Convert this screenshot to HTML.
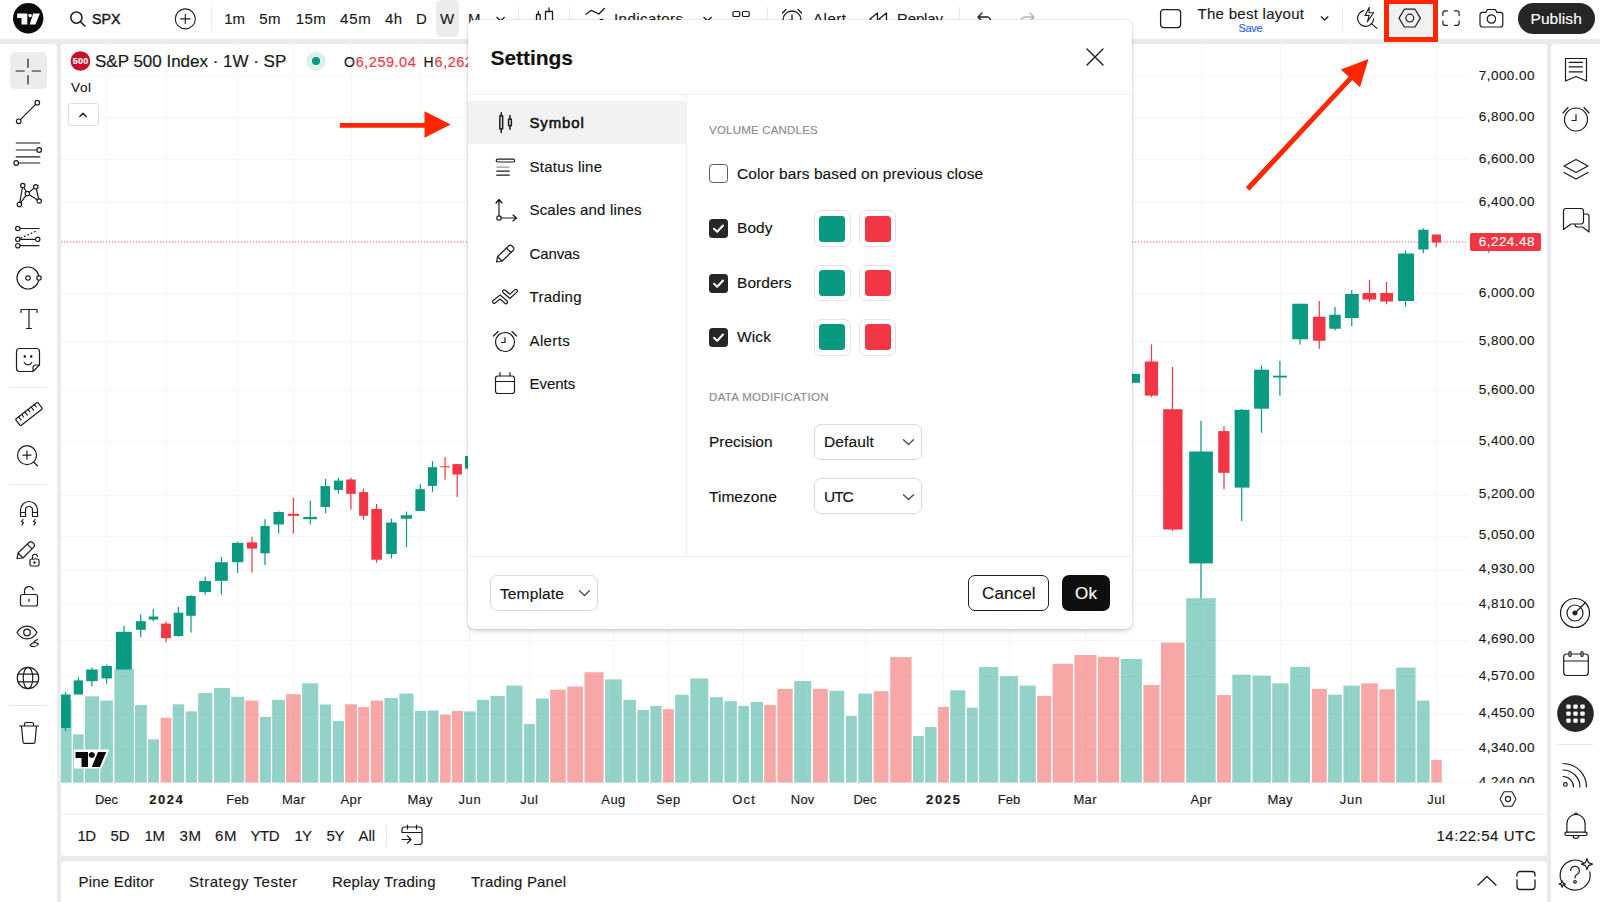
<!DOCTYPE html>
<html lang="en"><head><meta charset="utf-8"><title>Chart settings</title>
<style>
*{box-sizing:border-box;margin:0;padding:0}
html,body{width:1600px;height:902px;overflow:hidden}
body{position:relative;background:#ebebeb;font-family:"Liberation Sans",sans-serif;color:#131313}
.t{position:absolute;white-space:nowrap;line-height:20px;height:20px;-webkit-text-stroke:0.15px currentColor}
.p{position:absolute;background:#fff}
.a{position:absolute}
svg{position:absolute;overflow:visible}
.ic{fill:none;stroke:#1c1c1c;stroke-width:1.25;stroke-linecap:round;stroke-linejoin:round}
.sep{position:absolute;background:#e8e8e8}

</style></head>
<body>
<div class="p" style="left:0;top:0;width:1600px;height:39px"></div>
<svg style="left:13px;top:3px" width="31" height="31" viewBox="0 0 31 31"><circle cx="15.2" cy="15.2" r="15.2" fill="#0a0a0a"/><path d="M4.15 10.5H14.3V21.6H8.5V15H4.15z M20.1 10.5h6.8L22.4 21.6h-5.65z" fill="#fff"/><circle cx="17.1" cy="12.4" r="1.75" fill="#fff"/></svg>
<svg style="left:69px;top:10px" width="18" height="18" viewBox="0 0 18 18"><circle cx="7.4" cy="7.6" r="5.6" class="ic" style="stroke-width:1.5"/><path d="M11.6 11.9L15.8 16" class="ic" style="stroke-width:1.5"/></svg>
<span class="t" style="left:92.00px;top:8.60px;font-size:14.2px;color:#1a1a1a;letter-spacing:0.042px;-webkit-text-stroke:0.45px #1a1a1a;">SPX</span><svg style="left:174px;top:8px" width="22" height="22" viewBox="0 0 22 22"><circle cx="11.3" cy="10.9" r="10" class="ic" style="stroke-width:1.1"/><path d="M11.3 6.2v9.4M6.6 10.9H16" class="ic" style="stroke-width:1.1"/></svg>
<div class="sep" style="left:211px;top:7px;width:1px;height:23px"></div>
<div class="a" style="left:435.5px;top:0;width:23px;height:36.5px;background:#ececec;border-radius:5px"></div>
<span class="t" style="left:224.25px;top:9.20px;font-size:15px;color:#1a1a1a;letter-spacing:-0.088px;">1m</span><span class="t" style="left:259.25px;top:9.20px;font-size:15px;color:#1a1a1a;letter-spacing:0.412px;">5m</span><span class="t" style="left:295.75px;top:9.20px;font-size:15px;color:#1a1a1a;letter-spacing:0.410px;">15m</span><span class="t" style="left:340.00px;top:9.20px;font-size:15px;color:#1a1a1a;letter-spacing:0.785px;">45m</span><span class="t" style="left:385.00px;top:9.20px;font-size:15px;color:#1a1a1a;letter-spacing:0.315px;">4h</span><span class="t" style="left:416.00px;top:9.20px;font-size:15px;color:#1a1a1a;">D</span><span class="t" style="left:440.00px;top:9.20px;font-size:15px;color:#1a1a1a;">W</span><span class="t" style="left:468.00px;top:9.20px;font-size:15px;color:#1a1a1a;">M</span><svg style="left:494.5px;top:14.800px" width="12" height="8" viewBox="0 0 12 8"><path d="M1.800 2.300l3.800 3.500 3.800-3.500" class="ic"/></svg>
<div class="sep" style="left:518px;top:7px;width:1px;height:23px"></div>
<svg style="left:535px;top:6px" width="22" height="26" viewBox="0 0 22 26"><path d="M1.5 8.5h3.6v9h-3.6zM3.3 5.5v3M3.3 17.5v3M10.5 5.5h7v13h-7zM14 2v3.5M14 18.5v4" class="ic" style="stroke-width:1.3"/></svg>
<div class="sep" style="left:569px;top:7px;width:1px;height:23px"></div>
<svg style="left:585px;top:6px" width="24" height="22" viewBox="0 0 24 22"><path d="M1 8.200L6.300 4.300L13.800 8L19.400 2.500" class="ic" style="stroke-width:1.300"/><path d="M14.500 16c0-3.500 4-3.500 4 0v3" class="ic" style="stroke-width:1.300"/></svg>
<span class="t" style="left:614.00px;top:9.20px;font-size:15px;color:#1a1a1a;letter-spacing:0.441px;">Indicators</span><svg style="left:701.500px;top:14.800px" width="12" height="8" viewBox="0 0 12 8"><path d="M1.800 2.300l3.800 3.500 3.800-3.500" class="ic"/></svg>
<svg style="left:731px;top:10px" width="20" height="20" viewBox="0 0 20 20"><rect x="1.900" y="1.500" width="6.800" height="5" rx="1.300" class="ic" style="stroke-width:1.200"/><rect x="11.400" y="1.500" width="6.800" height="5" rx="1.300" class="ic" style="stroke-width:1.200"/><rect x="1.900" y="10.500" width="6.800" height="5" rx="1.300" class="ic" style="stroke-width:1.200"/><rect x="11.400" y="10.500" width="6.800" height="5" rx="1.300" class="ic" style="stroke-width:1.200"/></svg>
<div class="sep" style="left:767px;top:7px;width:1px;height:23px"></div>
<svg style="left:780px;top:7px" width="24" height="24" viewBox="0 0 24 24"><circle cx="12" cy="13" r="9" class="ic" style="stroke-width:1.3"/><path d="M12 8v5.5h-3.5M2.5 6L6 2.5M21.5 6L18 2.5" class="ic" style="stroke-width:1.3"/></svg>
<span class="t" style="left:813.00px;top:9.20px;font-size:15px;color:#1a1a1a;letter-spacing:0.539px;">Alert</span><svg style="left:868px;top:11px" width="22" height="16" viewBox="0 0 22 16"><path d="M9.5 2L2 8l7.5 6zM18.5 2L11 8l7.5 6z" class="ic" style="stroke-width:1.3"/></svg>
<span class="t" style="left:897.00px;top:9.20px;font-size:15px;color:#1a1a1a;letter-spacing:-0.139px;">Replay</span><div class="sep" style="left:959px;top:7px;width:1px;height:23px"></div>
<svg style="left:976px;top:11px" width="20" height="16" viewBox="0 0 20 16"><path d="M6 2L2 6l4 4M2 6h10a5 5 0 0 1 0 9" class="ic" style="stroke-width:1.3"/></svg>
<svg style="left:1016px;top:11px" width="20" height="16" viewBox="0 0 20 16"><path d="M14 2l4 4-4 4M18 6H8a5 5 0 0 0 0 9" class="ic" style="stroke:#b5b5b5;stroke-width:1.3"/></svg>
<svg style="left:1159px;top:8px" width="24" height="22" viewBox="0 0 24 22"><rect x="1.6" y="1.6" width="20" height="18" rx="3" class="ic" style="stroke-width:1.3"/></svg>
<span class="t" style="left:1197.50px;top:3.80px;font-size:15px;color:#1a1a1a;letter-spacing:0.281px;">The best layout</span><span class="t" style="left:1238.50px;top:17.60px;font-size:11px;color:#2962ff;letter-spacing:-0.358px;">Save</span><svg style="left:1319px;top:15px" width="12" height="8" viewBox="0 0 12 8"><path d="M2.300 1.800l3.300 3.200 3.300-3.200" class="ic"/></svg>
<div class="sep" style="left:1342px;top:7px;width:1px;height:23px"></div>
<svg style="left:1356px;top:6px" width="24" height="24" viewBox="0 0 24 24"><path d="M7.5 4.6A8 8 0 1 0 17.6 13" class="ic" style="stroke-width:1.2"/><path d="M15.2 17.4l5.6 5" class="ic" style="stroke-width:1.2"/><path d="M13.3 1.2L9 9.4h4.2l-1.8 6.4 6.2-9H13z" class="ic" style="stroke-width:1.1;fill:#fff"/></svg>
<div class="a" style="left:1383.75px;top:-1px;width:53.75px;height:43px;background:#f1f1f1;border:5px solid #ff2600"></div>
<svg style="left:1397px;top:7.300px" width="26" height="22" viewBox="0 0 26 22"><path d="M7.400 2.200h10.600l5.400 8.900-5.400 8.900H7.400L2 11.100z" class="ic" style="stroke-width:1.2"/><circle cx="12.8" cy="11.1" r="3.9" class="ic" style="stroke-width:1.2"/></svg>
<svg style="left:1441.900px;top:9.900px" width="18" height="17.100" viewBox="0 0 20 19"><path d="M1 6V3.2A2.2 2.2 0 0 1 3.200 1H6M14 1h2.800A2.200 2.200 0 0 1 19 3.200V6M19 12v2.800A2.200 2.200 0 0 1 16.800 17H14M6 17H3.200A2.200 2.200 0 0 1 1 14.800V12" class="ic" style="stroke-width:1.3"/></svg>
<svg style="left:1479px;top:8px" width="25" height="20" viewBox="0 0 25 20"><path d="M3.500 4.300H7l1.400-2.800h8l1.400 2.800h3.500a2.500 2.500 0 0 1 2.500 2.500v9.700a2.500 2.500 0 0 1-2.500 2.500H3.500A2.500 2.500 0 0 1 1 16.500V6.800a2.500 2.500 0 0 1 2.500-2.500z" class="ic" style="stroke-width:1.2"/><circle cx="12.4" cy="11" r="4.200" class="ic" style="stroke-width:1.2"/></svg>
<div class="a" style="left:1517.5px;top:3px;width:77px;height:30.5px;border-radius:16px;background:#262626"></div>
<span class="t" style="left:1530.50px;top:8.80px;font-size:15.5px;color:#fff;letter-spacing:0.069px;">Publish</span><div class="p" style="left:0;top:44px;width:56.6px;height:858px;border-top-right-radius:4px"></div>
<div class="a" style="left:10px;top:52.3px;width:36.6px;height:36.6px;background:#ececec;border-radius:5px"></div>
<svg style="left:12.3px;top:54.6px" width="32" height="32" viewBox="-16.0 -16.0 32 32"><g class="ic" style="stroke-width:1.2"><path d="M0 -12v8.300M0 4.500v8.300M-11.800 0h8M4.200 0h8.300"/></g></svg>
<svg style="left:12.2px;top:96.2px" width="32" height="32" viewBox="-16.0 -16.0 32 32"><g class="ic" style="stroke-width:1.2"><circle cx="9.3" cy="-9.300" r="2.300"/><circle cx="-9.300" cy="9.300" r="2.300"/><path d="M-7.600 7.600L7.600 -7.600"/></g></svg>
<svg style="left:12.4px;top:136.7px" width="32" height="32" viewBox="-16.0 -16.0 32 32"><g class="ic" style="stroke-width:1.2"><path d="M-11.800 -10h23.600M-11.800 -3h20.700M-11.800 3.900h23.600M-9.500 10h21.300"/><circle cx="11.200" cy="-3" r="2.300" fill="#fff"/><circle cx="-11.800" cy="10" r="2.300" fill="#fff"/></g></svg>
<svg style="left:12.5px;top:179.0px" width="32" height="32" viewBox="-16.0 -16.0 32 32"><g class="ic" style="stroke-width:1.2"><path d="M-6.200 -9.500L-9.600 9.400L-1.700 -1.400L6.800 -8.200L10.200 6L-1.700 -1.400L-6.200 -9.500"/><circle cx="-6.200" cy="-9.500" r="2.200" fill="#fff"/><circle cx="6.800" cy="-8.200" r="2.200" fill="#fff"/><circle cx="-1.700" cy="-1.400" r="2.200" fill="#fff"/><circle cx="10.200" cy="6" r="2.200" fill="#fff"/><circle cx="-9.600" cy="9.400" r="2.200" fill="#fff"/></g></svg>
<svg style="left:12.0px;top:220.5px" width="32" height="32" viewBox="-16.0 -16.0 32 32"><g class="ic" style="stroke-width:1.2"><path d="M-8 -8.500h19M-8 8.700h19M-8 2.300h16"/><path d="M-7 1l16.500 -7.500" stroke-dasharray="0.900 2.800"/><circle cx="-10.200" cy="-8.500" r="2.200" fill="#fff"/><circle cx="-10.200" cy="2.300" r="2.200" fill="#fff"/><circle cx="9.700" cy="2.300" r="2.200" fill="#fff"/><circle cx="-10.200" cy="8.700" r="2.200" fill="#fff"/></g></svg>
<svg style="left:12.2px;top:261.6px" width="32" height="32" viewBox="-16.0 -16.0 32 32"><g class="ic" style="stroke-width:1.2"><circle cx="0" cy="0" r="11"/><circle cx="0" cy="0" r="2.200"/><circle cx="11" cy="0" r="2.200" fill="#fff"/></g></svg>
<svg style="left:12.5px;top:303.0px" width="32" height="32" viewBox="-16.0 -16.0 32 32"><g class="ic" style="stroke-width:1.2"><path d="M-8 -6.500v-3h16v3M0 -9.500v19M-2.500 9.500h5"/></g></svg>
<svg style="left:12.2px;top:343.6px" width="32" height="32" viewBox="-16.0 -16.0 32 32"><g class="ic" style="stroke-width:1.2"><path d="M-8.500 -11.500h17a3 3 0 0 1 3 3v13.500l-6.500 6.500h-13.500a3 3 0 0 1 -3 -3v-17a3 3 0 0 1 3 -3zM11.500 5h-4a2.500 2.500 0 0 0 -2.500 2.500v4"/><path d="M-3.800 2.500a4.300 4.300 0 0 0 7.600 0"/><circle cx="-3.200" cy="-3.500" r="0.700" fill="#1c1c1c"/><circle cx="3.200" cy="-3.500" r="0.700" fill="#1c1c1c"/></g></svg>
<div class="sep" style="left:9px;top:387px;width:38px;height:1px"></div>
<svg style="left:12.5px;top:398.0px" width="32" height="32" viewBox="-16.0 -16.0 32 32"><g class="ic" style="stroke-width:1.2"><g transform="rotate(-38)"><rect x="-14" y="-4.200" width="28" height="8.400" rx="1"/><path d="M-10 -4.200v4M-6 -4.200v3M-2 -4.200v4M2 -4.200v3M6 -4.200v4M10 -4.200v3"/></g></g></svg>
<svg style="left:11.0px;top:440.0px" width="32" height="32" viewBox="-16.0 -16.0 32 32"><g class="ic" style="stroke-width:1.2"><circle cx="0" cy="-0.800" r="9.500"/><path d="M0 -4.800v8M-4 -0.800h8M6.700 6.200L10.500 9.800"/></g></svg>
<div class="sep" style="left:9px;top:484px;width:38px;height:1px"></div>
<svg style="left:12.5px;top:497.0px" width="32" height="32" viewBox="-16.0 -16.0 32 32"><g class="ic" style="stroke-width:1.2"><path d="M-8.500 3.500v-6.500a8.500 8.500 0 0 1 17 0v6.500h-5v-6.500a3.500 3.500 0 0 0 -7 0v6.500zM-8.500 -0.500h5M3.500 -0.500h5"/><path d="M-6 6.500l-1.500 2 2 1-1.500 2.500M6 6.500l-1.500 2 2 1-1.500 2.500"/></g></svg>
<svg style="left:11.5px;top:538.5px" width="32" height="32" viewBox="-16.0 -16.0 32 32"><g class="ic" style="stroke-width:1.2"><path d="M-11 3.500l1 -5.500 11 -10.500a2.500 2.500 0 0 1 3.500 0l1.200 1.200a2.500 2.500 0 0 1 0 3.500l-10.700 10.800zM-10 -2l4.500 4.500M-0.700 -10.800l4.700 4.700"/><rect x="2" y="4" width="9" height="7" rx="1.500" fill="#fff"/><path d="M4.500 4v-2a2.500 2.500 0 0 1 5 -0.500"/><circle cx="6.500" cy="7.500" r="0.600" fill="#1c1c1c"/></g></svg>
<svg style="left:12.5px;top:580.0px" width="32" height="32" viewBox="-16.0 -16.0 32 32"><g class="ic" style="stroke-width:1.2"><rect x="-8.500" y="-1.500" width="17" height="11.500" rx="2"/><path d="M-4.500 -1.500v-3.500a4.500 4.500 0 0 1 8.800 -1.300M0 3v2.500"/></g></svg>
<svg style="left:11.0px;top:617.0px" width="32" height="32" viewBox="-16.0 -16.0 32 32"><g class="ic" style="stroke-width:1.2"><path d="M-10 -0.500c5 -8.500 15 -8.500 20 0c-5 8.500 -15 8.500 -20 0z"/><circle cx="0" cy="-0.500" r="3.300"/><path d="M3 12.500c2 -3.500 6.500 -3.500 8.500 -1.500c-2 2.500 -5.500 3.500 -8.500 1.500zM7 8.500l3.500 -2"/></g></svg>
<svg style="left:12.0px;top:662.0px" width="32" height="32" viewBox="-16.0 -16.0 32 32"><g class="ic" style="stroke-width:1.2"><circle cx="0" cy="0" r="10.700"/><ellipse cx="0" cy="0" rx="4.800" ry="10.700"/><path d="M-10 -3.800h20M-10 3.800h20"/></g></svg>
<div class="sep" style="left:9px;top:705px;width:38px;height:1px"></div>
<svg style="left:12.5px;top:717.0px" width="32" height="32" viewBox="-16.0 -16.0 32 32"><g class="ic" style="stroke-width:1.2"><path d="M-9.500 -7h19M-7.500 -7l1.500 16a1.500 1.500 0 0 0 1.500 1.400h9a1.500 1.500 0 0 0 1.500 -1.400l1.500 -16M-4.500 -7v-2a1.500 1.500 0 0 1 1.500 -1.500h6a1.500 1.500 0 0 1 1.500 1.500v2"/></g></svg>
<div class="p" style="left:61px;top:44px;width:1485.7px;height:812.2px;border-radius:4px"></div>
<svg style="left:0;top:0" width="1600" height="902" viewBox="0 0 1600 902"><defs><clipPath id="cp"><rect x="61" y="44" width="1407" height="739"/></clipPath></defs><g stroke="#f6f6f6" stroke-width="1" shape-rendering="crispEdges"><path d="M61 76H1468"/><path d="M61 117H1468"/><path d="M61 159H1468"/><path d="M61 202.5H1468"/><path d="M61 246.5H1468"/><path d="M61 293.5H1468"/><path d="M61 341H1468"/><path d="M61 390.5H1468"/><path d="M61 441H1468"/><path d="M61 495H1468"/><path d="M61 536H1468"/><path d="M61 570H1468"/><path d="M61 604.5H1468"/><path d="M61 640.5H1468"/><path d="M61 676H1468"/><path d="M61 714H1468"/><path d="M61 749H1468"/><path d="M61 782.5H1468"/><path d="M106.5 44V783"/><path d="M166 44V783"/><path d="M237.5 44V783"/><path d="M293.5 44V783"/><path d="M351 44V783"/><path d="M420 44V783"/><path d="M469.6 44V783"/><path d="M529 44V783"/><path d="M613.3 44V783"/><path d="M668.2 44V783"/><path d="M743.5 44V783"/><path d="M802.6 44V783"/><path d="M865 44V783"/><path d="M943 44V783"/><path d="M1009 44V783"/><path d="M1085 44V783"/><path d="M1201 44V783"/><path d="M1280 44V783"/><path d="M1351 44V783"/><path d="M1436 44V783"/></g><path d="M61 242H1467" stroke="#f23645" stroke-width="1.2" stroke-dasharray="1.1 1.9" opacity="0.85"/><g clip-path="url(#cp)"><rect x="64.90" y="692.00" width="1.2" height="39.00" fill="#0a9981"/><rect x="61.10" y="694.50" width="9.50" height="33.50" fill="#0a9981"/><rect x="77.80" y="677.30" width="1.2" height="17.20" fill="#0a9981"/><rect x="73.70" y="680.40" width="9.30" height="14.10" fill="#0a9981"/><rect x="91.30" y="667.50" width="1.2" height="18.80" fill="#0a9981"/><rect x="86.20" y="669.50" width="11.50" height="11.70" fill="#0a9981"/><rect x="106.00" y="664.60" width="1.2" height="19.10" fill="#0a9981"/><rect x="101.50" y="666.00" width="10.40" height="12.40" fill="#0a9981"/><rect x="123.50" y="625.80" width="1.2" height="43.70" fill="#0a9981"/><rect x="115.90" y="631.80" width="15.90" height="37.70" fill="#0a9981"/><rect x="140.10" y="614.30" width="1.2" height="22.80" fill="#0a9981"/><rect x="136.00" y="621.20" width="9.80" height="8.60" fill="#0a9981"/><rect x="152.70" y="609.20" width="1.2" height="12.20" fill="#0a9981"/><rect x="148.70" y="616.50" width="9.50" height="3.10" fill="#0a9981"/><rect x="165.40" y="621.40" width="1.2" height="21.00" fill="#f23645"/><rect x="161.10" y="623.60" width="9.80" height="14.60" fill="#f23645"/><rect x="177.80" y="607.00" width="1.2" height="29.70" fill="#0a9981"/><rect x="173.70" y="612.70" width="9.60" height="23.30" fill="#0a9981"/><rect x="190.40" y="595.40" width="1.2" height="37.10" fill="#0a9981"/><rect x="186.20" y="595.90" width="9.50" height="19.90" fill="#0a9981"/><rect x="204.60" y="576.60" width="1.2" height="17.90" fill="#0a9981"/><rect x="199.20" y="581.00" width="11.80" height="11.10" fill="#0a9981"/><rect x="220.80" y="557.00" width="1.2" height="37.50" fill="#0a9981"/><rect x="215.00" y="562.20" width="12.80" height="18.60" fill="#0a9981"/><rect x="237.00" y="541.80" width="1.2" height="31.00" fill="#0a9981"/><rect x="232.00" y="542.90" width="11.40" height="19.30" fill="#0a9981"/><rect x="251.40" y="536.70" width="1.2" height="35.90" fill="#f23645"/><rect x="246.90" y="542.40" width="10.20" height="6.20" fill="#f23645"/><rect x="264.40" y="519.20" width="1.2" height="45.80" fill="#0a9981"/><rect x="260.40" y="526.00" width="9.30" height="27.30" fill="#0a9981"/><rect x="278.00" y="511.40" width="1.2" height="22.20" fill="#0a9981"/><rect x="273.50" y="512.00" width="10.40" height="12.50" fill="#0a9981"/><rect x="292.80" y="497.90" width="1.2" height="35.70" fill="#f23645"/><rect x="287.70" y="513.80" width="11.50" height="2.00" fill="#f23645"/><rect x="309.70" y="500.75" width="1.2" height="23.75" fill="#0a9981"/><rect x="303.20" y="516.90" width="13.70" height="2.30" fill="#0a9981"/><rect x="325.00" y="479.00" width="1.2" height="34.20" fill="#0a9981"/><rect x="320.50" y="486.10" width="9.50" height="20.90" fill="#0a9981"/><rect x="337.80" y="477.90" width="1.2" height="15.80" fill="#0a9981"/><rect x="334.00" y="480.60" width="9.10" height="9.30" fill="#0a9981"/><rect x="350.30" y="477.90" width="1.2" height="31.70" fill="#f23645"/><rect x="346.20" y="479.50" width="9.50" height="14.40" fill="#f23645"/><rect x="362.90" y="488.60" width="1.2" height="31.00" fill="#f23645"/><rect x="359.10" y="492.10" width="9.10" height="23.70" fill="#f23645"/><rect x="376.00" y="504.00" width="1.2" height="58.60" fill="#f23645"/><rect x="371.30" y="509.00" width="10.60" height="50.70" fill="#f23645"/><rect x="390.80" y="518.70" width="1.2" height="39.70" fill="#0a9981"/><rect x="386.10" y="522.50" width="10.70" height="31.50" fill="#0a9981"/><rect x="405.90" y="511.60" width="1.2" height="35.50" fill="#0a9981"/><rect x="400.75" y="515.20" width="11.25" height="3.50" fill="#0a9981"/><rect x="419.70" y="484.10" width="1.2" height="26.90" fill="#0a9981"/><rect x="415.40" y="489.20" width="9.50" height="21.80" fill="#0a9981"/><rect x="431.90" y="461.20" width="1.2" height="30.60" fill="#0a9981"/><rect x="427.90" y="467.10" width="9.20" height="18.80" fill="#0a9981"/><rect x="444.50" y="457.10" width="1.2" height="22.50" fill="#f23645"/><rect x="440.10" y="466.30" width="9.80" height="1.00" fill="#f23645"/><rect x="456.60" y="464.10" width="1.2" height="32.90" fill="#f23645"/><rect x="452.40" y="464.10" width="9.50" height="10.40" fill="#f23645"/><rect x="467.40" y="456.10" width="1.2" height="12.60" fill="#0a9981"/><rect x="465.00" y="456.10" width="5.00" height="12.60" fill="#0a9981"/><rect x="1134.40" y="373.90" width="1.2" height="8.90" fill="#0a9981"/><rect x="1130.00" y="373.90" width="10.00" height="8.90" fill="#0a9981"/><rect x="1150.90" y="344.40" width="1.2" height="52.80" fill="#f23645"/><rect x="1144.80" y="361.50" width="13.30" height="34.10" fill="#f23645"/><rect x="1171.90" y="367.00" width="1.2" height="164.00" fill="#f23645"/><rect x="1163.20" y="409.20" width="19.30" height="120.30" fill="#f23645"/><rect x="1200.40" y="420.90" width="1.2" height="177.30" fill="#0a9981"/><rect x="1189.20" y="451.50" width="23.70" height="111.90" fill="#0a9981"/><rect x="1223.40" y="426.20" width="1.2" height="63.00" fill="#f23645"/><rect x="1218.20" y="431.10" width="11.30" height="41.70" fill="#f23645"/><rect x="1241.10" y="409.00" width="1.2" height="112.00" fill="#0a9981"/><rect x="1234.60" y="409.80" width="14.90" height="77.80" fill="#0a9981"/><rect x="1260.90" y="365.50" width="1.2" height="67.20" fill="#0a9981"/><rect x="1254.10" y="369.70" width="14.90" height="39.00" fill="#0a9981"/><rect x="1279.30" y="361.00" width="1.2" height="34.60" fill="#0a9981"/><rect x="1273.00" y="375.70" width="14.00" height="1.80" fill="#0a9981"/><rect x="1299.40" y="303.75" width="1.2" height="40.75" fill="#0a9981"/><rect x="1292.25" y="303.75" width="15.75" height="35.50" fill="#0a9981"/><rect x="1318.65" y="301.00" width="1.2" height="47.75" fill="#f23645"/><rect x="1313.00" y="316.75" width="12.50" height="24.00" fill="#f23645"/><rect x="1334.40" y="307.00" width="1.2" height="23.50" fill="#0a9981"/><rect x="1329.25" y="314.75" width="11.50" height="14.00" fill="#0a9981"/><rect x="1351.15" y="290.00" width="1.2" height="36.00" fill="#0a9981"/><rect x="1345.00" y="294.00" width="13.75" height="24.00" fill="#0a9981"/><rect x="1368.90" y="279.75" width="1.2" height="22.25" fill="#f23645"/><rect x="1362.50" y="293.00" width="13.75" height="6.50" fill="#f23645"/><rect x="1385.90" y="282.00" width="1.2" height="22.25" fill="#f23645"/><rect x="1380.25" y="293.00" width="12.75" height="8.50" fill="#f23645"/><rect x="1404.90" y="250.25" width="1.2" height="56.50" fill="#0a9981"/><rect x="1398.00" y="253.50" width="16.00" height="47.50" fill="#0a9981"/><rect x="1422.65" y="228.25" width="1.2" height="25.00" fill="#0a9981"/><rect x="1418.25" y="229.75" width="10.25" height="19.75" fill="#0a9981"/><rect x="1435.65" y="234.50" width="1.2" height="12.75" fill="#f23645"/><rect x="1431.75" y="234.50" width="9.25" height="8.00" fill="#f23645"/><rect x="61.00" y="700.00" width="10.60" height="82.50" fill="rgba(10,153,129,0.44)"/><rect x="73.10" y="734.30" width="10.50" height="48.20" fill="rgba(10,153,129,0.44)"/><rect x="85.00" y="696.30" width="14.00" height="86.20" fill="rgba(10,153,129,0.44)"/><rect x="100.30" y="700.60" width="12.60" height="81.90" fill="rgba(10,153,129,0.44)"/><rect x="114.40" y="669.00" width="19.50" height="113.50" fill="rgba(10,153,129,0.44)"/><rect x="135.00" y="705.00" width="11.80" height="77.50" fill="rgba(10,153,129,0.44)"/><rect x="148.10" y="739.40" width="10.90" height="43.10" fill="rgba(10,153,129,0.44)"/><rect x="160.70" y="717.80" width="10.70" height="64.70" fill="rgba(240,82,78,0.5)"/><rect x="172.70" y="704.30" width="11.40" height="78.20" fill="rgba(10,153,129,0.44)"/><rect x="185.80" y="711.40" width="11.10" height="71.10" fill="rgba(10,153,129,0.44)"/><rect x="198.20" y="693.00" width="14.20" height="89.50" fill="rgba(10,153,129,0.44)"/><rect x="214.10" y="688.00" width="15.80" height="94.50" fill="rgba(10,153,129,0.44)"/><rect x="231.20" y="696.80" width="13.10" height="85.70" fill="rgba(10,153,129,0.44)"/><rect x="245.30" y="700.60" width="13.10" height="81.90" fill="rgba(240,82,78,0.5)"/><rect x="259.90" y="716.90" width="11.00" height="65.60" fill="rgba(10,153,129,0.44)"/><rect x="272.10" y="699.80" width="12.90" height="82.70" fill="rgba(10,153,129,0.44)"/><rect x="286.10" y="694.20" width="14.70" height="88.30" fill="rgba(240,82,78,0.5)"/><rect x="302.10" y="683.30" width="16.10" height="99.20" fill="rgba(10,153,129,0.44)"/><rect x="319.90" y="704.50" width="11.20" height="78.00" fill="rgba(10,153,129,0.44)"/><rect x="332.80" y="721.00" width="11.10" height="61.50" fill="rgba(10,153,129,0.44)"/><rect x="345.10" y="704.30" width="11.80" height="78.20" fill="rgba(240,82,78,0.5)"/><rect x="358.20" y="707.10" width="10.90" height="75.40" fill="rgba(240,82,78,0.5)"/><rect x="370.75" y="700.60" width="12.35" height="81.90" fill="rgba(240,82,78,0.5)"/><rect x="384.40" y="697.90" width="13.50" height="84.60" fill="rgba(10,153,129,0.44)"/><rect x="399.40" y="693.60" width="14.10" height="88.90" fill="rgba(10,153,129,0.44)"/><rect x="415.00" y="710.90" width="11.10" height="71.60" fill="rgba(10,153,129,0.44)"/><rect x="427.60" y="710.50" width="11.00" height="72.00" fill="rgba(10,153,129,0.44)"/><rect x="440.10" y="714.60" width="10.50" height="67.90" fill="rgba(240,82,78,0.5)"/><rect x="451.90" y="710.90" width="11.10" height="71.60" fill="rgba(240,82,78,0.5)"/><rect x="464.10" y="711.40" width="11.65" height="71.10" fill="rgba(10,153,129,0.44)"/><rect x="476.90" y="699.80" width="12.20" height="82.70" fill="rgba(10,153,129,0.44)"/><rect x="490.60" y="695.90" width="14.20" height="86.60" fill="rgba(10,153,129,0.44)"/><rect x="506.30" y="685.60" width="16.10" height="96.90" fill="rgba(10,153,129,0.44)"/><rect x="523.90" y="724.00" width="10.90" height="58.50" fill="rgba(10,153,129,0.44)"/><rect x="536.10" y="698.50" width="12.80" height="84.00" fill="rgba(10,153,129,0.44)"/><rect x="550.20" y="689.70" width="15.55" height="92.80" fill="rgba(240,82,78,0.5)"/><rect x="567.25" y="686.50" width="15.75" height="96.00" fill="rgba(240,82,78,0.5)"/><rect x="584.50" y="672.25" width="19.10" height="110.25" fill="rgba(240,82,78,0.5)"/><rect x="605.10" y="679.40" width="16.70" height="103.10" fill="rgba(10,153,129,0.44)"/><rect x="623.40" y="699.80" width="12.50" height="82.70" fill="rgba(10,153,129,0.44)"/><rect x="637.40" y="709.90" width="11.50" height="72.60" fill="rgba(10,153,129,0.44)"/><rect x="650.40" y="706.00" width="11.20" height="76.50" fill="rgba(10,153,129,0.44)"/><rect x="662.90" y="709.20" width="10.90" height="73.30" fill="rgba(240,82,78,0.5)"/><rect x="675.10" y="694.75" width="13.70" height="87.75" fill="rgba(10,153,129,0.44)"/><rect x="690.30" y="678.40" width="18.00" height="104.10" fill="rgba(10,153,129,0.44)"/><rect x="710.00" y="697.20" width="12.90" height="85.30" fill="rgba(10,153,129,0.44)"/><rect x="724.40" y="701.10" width="12.40" height="81.40" fill="rgba(10,153,129,0.44)"/><rect x="738.30" y="706.00" width="10.70" height="76.50" fill="rgba(10,153,129,0.44)"/><rect x="750.70" y="701.90" width="12.40" height="80.60" fill="rgba(10,153,129,0.44)"/><rect x="764.20" y="705.00" width="11.60" height="77.50" fill="rgba(240,82,78,0.5)"/><rect x="777.30" y="688.90" width="15.40" height="93.60" fill="rgba(240,82,78,0.5)"/><rect x="794.20" y="680.90" width="17.05" height="101.60" fill="rgba(10,153,129,0.44)"/><rect x="812.90" y="688.90" width="15.00" height="93.60" fill="rgba(240,82,78,0.5)"/><rect x="829.40" y="690.80" width="14.85" height="91.70" fill="rgba(10,153,129,0.44)"/><rect x="845.90" y="715.90" width="10.90" height="66.60" fill="rgba(10,153,129,0.44)"/><rect x="858.30" y="693.60" width="13.90" height="88.90" fill="rgba(10,153,129,0.44)"/><rect x="873.70" y="691.20" width="14.80" height="91.30" fill="rgba(240,82,78,0.5)"/><rect x="890.20" y="657.00" width="21.40" height="125.50" fill="rgba(240,82,78,0.5)"/><rect x="912.90" y="736.00" width="10.90" height="46.50" fill="rgba(10,153,129,0.44)"/><rect x="925.10" y="727.00" width="11.50" height="55.50" fill="rgba(10,153,129,0.44)"/><rect x="937.90" y="706.90" width="11.00" height="75.60" fill="rgba(240,82,78,0.5)"/><rect x="950.25" y="690.25" width="15.00" height="92.25" fill="rgba(10,153,129,0.44)"/><rect x="966.75" y="707.70" width="11.05" height="74.80" fill="rgba(10,153,129,0.44)"/><rect x="979.10" y="667.00" width="19.15" height="115.50" fill="rgba(10,153,129,0.44)"/><rect x="999.90" y="676.20" width="18.00" height="106.30" fill="rgba(10,153,129,0.44)"/><rect x="1019.60" y="685.60" width="16.15" height="96.90" fill="rgba(10,153,129,0.44)"/><rect x="1037.10" y="695.90" width="14.00" height="86.60" fill="rgba(240,82,78,0.5)"/><rect x="1052.60" y="663.80" width="20.30" height="118.70" fill="rgba(240,82,78,0.5)"/><rect x="1074.40" y="655.00" width="22.10" height="127.50" fill="rgba(240,82,78,0.5)"/><rect x="1098.00" y="656.90" width="21.20" height="125.60" fill="rgba(240,82,78,0.5)"/><rect x="1120.70" y="658.90" width="21.20" height="123.60" fill="rgba(10,153,129,0.44)"/><rect x="1143.40" y="685.00" width="16.10" height="97.50" fill="rgba(240,82,78,0.5)"/><rect x="1161.00" y="642.60" width="23.60" height="139.90" fill="rgba(240,82,78,0.5)"/><rect x="1186.20" y="598.20" width="29.50" height="184.30" fill="rgba(10,153,129,0.44)"/><rect x="1217.00" y="695.10" width="14.00" height="87.40" fill="rgba(240,82,78,0.5)"/><rect x="1232.30" y="674.70" width="18.40" height="107.80" fill="rgba(10,153,129,0.44)"/><rect x="1252.50" y="675.60" width="18.40" height="106.90" fill="rgba(10,153,129,0.44)"/><rect x="1272.20" y="683.30" width="16.40" height="99.20" fill="rgba(10,153,129,0.44)"/><rect x="1290.20" y="666.90" width="19.90" height="115.60" fill="rgba(10,153,129,0.44)"/><rect x="1311.90" y="688.90" width="14.90" height="93.60" fill="rgba(240,82,78,0.5)"/><rect x="1328.10" y="694.70" width="13.70" height="87.80" fill="rgba(10,153,129,0.44)"/><rect x="1343.40" y="685.60" width="16.40" height="96.90" fill="rgba(10,153,129,0.44)"/><rect x="1361.10" y="683.30" width="16.70" height="99.20" fill="rgba(240,82,78,0.5)"/><rect x="1379.30" y="689.30" width="15.50" height="93.20" fill="rgba(240,82,78,0.5)"/><rect x="1396.20" y="667.60" width="19.30" height="114.90" fill="rgba(10,153,129,0.44)"/><rect x="1417.00" y="700.60" width="12.60" height="81.90" fill="rgba(10,153,129,0.44)"/><rect x="1431.20" y="759.80" width="10.60" height="22.70" fill="rgba(240,82,78,0.5)"/></g><g transform="translate(75,752)"><path d="M-1 -2.500h35.500l-8 19h-27.500z" fill="#fff"/><path d="M0.500 0h12.500v15h-6.500v-9h-6zM16.800 0a3 3 0 1 0 0.010 0zM23 0h8.200l-6.300 15h-8.200z" fill="#0a0a0a"/></g></svg>
<svg style="left:70px;top:51px" width="20" height="20" viewBox="0 0 20 20"><circle cx="10.400" cy="10" r="9.850" fill="#c8102e"/></svg>
<span class="t" style="left:72.65px;top:51.20px;font-size:9px;color:#fff;font-weight:700;letter-spacing:0.242px;">500</span><span class="t" style="left:95.00px;top:51.90px;font-size:17px;color:#1a1a1a;letter-spacing:-0.012px;-webkit-text-stroke:0.2px #1a1a1a;">S&amp;P 500 Index · 1W · SP</span><svg style="left:306px;top:51px" width="20" height="20" viewBox="0 0 20 20"><circle cx="10" cy="10" r="9.700" fill="#dcf1ec"/><circle cx="10" cy="10" r="4" fill="#089981"/></svg>
<span class="t" style="left:344.00px;top:51.60px;font-size:14px;color:#1a1a1a;">O</span><span class="t" style="left:355.75px;top:51.60px;font-size:14.5px;color:#f23645;letter-spacing:0.508px;">6,259.04</span><span class="t" style="left:423.60px;top:51.60px;font-size:14px;color:#1a1a1a;">H</span><span class="t" style="left:434.60px;top:51.60px;font-size:14.5px;color:#f23645;letter-spacing:0.508px;">6,262.55</span><span class="t" style="left:71.00px;top:77.70px;font-size:13.5px;color:#1a1a1a;letter-spacing:0.616px;">Vol</span><div class="a" style="left:68px;top:103px;width:30.500px;height:22.600px;border:1px solid #dedede;border-radius:3px;background:#fff"></div>
<svg style="left:78px;top:111px" width="10" height="8" viewBox="0 0 10 8"><path d="M1.800 5.500L5 2.300l3.200 3.200" class="ic" style="stroke-width:1.400"/></svg>
<span class="t" style="left:1478.75px;top:66.30px;font-size:13.5px;color:#1a1a1a;letter-spacing:0.457px;">7,000.00</span><span class="t" style="left:1478.75px;top:107.30px;font-size:13.5px;color:#1a1a1a;letter-spacing:0.457px;">6,800.00</span><span class="t" style="left:1478.75px;top:149.30px;font-size:13.5px;color:#1a1a1a;letter-spacing:0.457px;">6,600.00</span><span class="t" style="left:1478.75px;top:192.30px;font-size:13.5px;color:#1a1a1a;letter-spacing:0.457px;">6,400.00</span><span class="t" style="left:1478.75px;top:237.30px;font-size:13.5px;color:#1a1a1a;letter-spacing:0.457px;">6,200.00</span><span class="t" style="left:1478.75px;top:283.30px;font-size:13.5px;color:#1a1a1a;letter-spacing:0.457px;">6,000.00</span><span class="t" style="left:1478.75px;top:331.30px;font-size:13.5px;color:#1a1a1a;letter-spacing:0.457px;">5,800.00</span><span class="t" style="left:1478.75px;top:380.30px;font-size:13.5px;color:#1a1a1a;letter-spacing:0.457px;">5,600.00</span><span class="t" style="left:1478.75px;top:431.30px;font-size:13.5px;color:#1a1a1a;letter-spacing:0.457px;">5,400.00</span><span class="t" style="left:1478.75px;top:484.30px;font-size:13.5px;color:#1a1a1a;letter-spacing:0.457px;">5,200.00</span><span class="t" style="left:1478.75px;top:525.30px;font-size:13.5px;color:#1a1a1a;letter-spacing:0.457px;">5,050.00</span><span class="t" style="left:1478.75px;top:559.30px;font-size:13.5px;color:#1a1a1a;letter-spacing:0.457px;">4,930.00</span><span class="t" style="left:1478.75px;top:594.30px;font-size:13.5px;color:#1a1a1a;letter-spacing:0.457px;">4,810.00</span><span class="t" style="left:1478.75px;top:629.30px;font-size:13.5px;color:#1a1a1a;letter-spacing:0.457px;">4,690.00</span><span class="t" style="left:1478.75px;top:666.30px;font-size:13.5px;color:#1a1a1a;letter-spacing:0.457px;">4,570.00</span><span class="t" style="left:1478.75px;top:703.30px;font-size:13.5px;color:#1a1a1a;letter-spacing:0.457px;">4,450.00</span><span class="t" style="left:1478.75px;top:738.30px;font-size:13.5px;color:#1a1a1a;letter-spacing:0.457px;">4,340.00</span><span class="t" style="left:1478.75px;top:772.30px;font-size:13.5px;color:#1a1a1a;letter-spacing:0.457px;">4,240.00</span><div class="a" style="left:1469.5px;top:232.75px;width:71.5px;height:18.5px;background:#f23645;border-radius:2px"></div>
<span class="t" style="left:1478.75px;top:232.20px;font-size:13.5px;color:#fff;letter-spacing:0.457px;">6,224.48</span><div class="p" style="left:61px;top:783px;width:1485.7px;height:31px"></div>
<span class="t" style="left:94.90px;top:789.70px;font-size:13px;color:#1a1a1a;letter-spacing:0.041px;">Dec</span><span class="t" style="left:149.25px;top:789.70px;font-size:13px;color:#1a1a1a;font-weight:700;letter-spacing:1.526px;">2024</span><span class="t" style="left:226.25px;top:789.70px;font-size:13px;color:#1a1a1a;letter-spacing:0.049px;">Feb</span><span class="t" style="left:281.90px;top:789.70px;font-size:13px;color:#1a1a1a;letter-spacing:0.405px;">Mar</span><span class="t" style="left:340.50px;top:789.70px;font-size:13px;color:#1a1a1a;letter-spacing:0.384px;">Apr</span><span class="t" style="left:407.40px;top:789.70px;font-size:13px;color:#1a1a1a;letter-spacing:0.320px;">May</span><span class="t" style="left:458.45px;top:789.70px;font-size:13px;color:#1a1a1a;letter-spacing:0.670px;">Jun</span><span class="t" style="left:520.15px;top:789.70px;font-size:13px;color:#1a1a1a;letter-spacing:0.541px;">Jul</span><span class="t" style="left:601.30px;top:789.70px;font-size:13px;color:#1a1a1a;letter-spacing:0.434px;">Aug</span><span class="t" style="left:656.20px;top:789.70px;font-size:13px;color:#1a1a1a;letter-spacing:0.434px;">Sep</span><span class="t" style="left:732.25px;top:789.70px;font-size:13px;color:#1a1a1a;letter-spacing:1.138px;">Oct</span><span class="t" style="left:790.85px;top:789.70px;font-size:13px;color:#1a1a1a;letter-spacing:0.191px;">Nov</span><span class="t" style="left:853.40px;top:789.70px;font-size:13px;color:#1a1a1a;letter-spacing:0.041px;">Dec</span><span class="t" style="left:925.90px;top:789.70px;font-size:13px;color:#1a1a1a;font-weight:700;letter-spacing:1.760px;">2025</span><span class="t" style="left:997.75px;top:789.70px;font-size:13px;color:#1a1a1a;letter-spacing:0.049px;">Feb</span><span class="t" style="left:1073.40px;top:789.70px;font-size:13px;color:#1a1a1a;letter-spacing:0.405px;">Mar</span><span class="t" style="left:1190.50px;top:789.70px;font-size:13px;color:#1a1a1a;letter-spacing:0.384px;">Apr</span><span class="t" style="left:1267.40px;top:789.70px;font-size:13px;color:#1a1a1a;letter-spacing:0.320px;">May</span><span class="t" style="left:1339.85px;top:789.70px;font-size:13px;color:#1a1a1a;letter-spacing:0.670px;">Jun</span><span class="t" style="left:1427.15px;top:789.70px;font-size:13px;color:#1a1a1a;letter-spacing:0.541px;">Jul</span><svg style="left:1498px;top:790px" width="20" height="18" viewBox="0 0 20 18"><path d="M6 1.800h8l4 7.200-4 7.200H6L2 9z" class="ic" style="stroke-width:1.100"/><circle cx="10" cy="9" r="2.600" class="ic" style="stroke-width:1.100"/></svg>
<div class="a" style="left:61px;top:814px;width:1485.7px;height:1px;background:#ececec"></div>
<span class="t" style="left:77.50px;top:826.20px;font-size:15px;color:#1a1a1a;letter-spacing:-0.675px;">1D</span><span class="t" style="left:110.50px;top:826.20px;font-size:15px;color:#1a1a1a;letter-spacing:-0.175px;">5D</span><span class="t" style="left:144.50px;top:826.20px;font-size:15px;color:#1a1a1a;letter-spacing:-0.338px;">1M</span><span class="t" style="left:179.50px;top:826.20px;font-size:15px;color:#1a1a1a;letter-spacing:0.662px;">3M</span><span class="t" style="left:215.00px;top:826.20px;font-size:15px;color:#1a1a1a;letter-spacing:0.662px;">6M</span><span class="t" style="left:250.50px;top:826.20px;font-size:15px;color:#1a1a1a;letter-spacing:-0.501px;">YTD</span><span class="t" style="left:294.50px;top:826.20px;font-size:15px;color:#1a1a1a;letter-spacing:-0.848px;">1Y</span><span class="t" style="left:326.50px;top:826.20px;font-size:15px;color:#1a1a1a;letter-spacing:-0.348px;">5Y</span><span class="t" style="left:358.50px;top:826.20px;font-size:15px;color:#1a1a1a;letter-spacing:-0.086px;">All</span><div class="sep" style="left:386px;top:825px;width:1px;height:22px"></div>
<svg style="left:400px;top:824px" width="24" height="22" viewBox="0 0 24 22"><path d="M2 8.500V5.500a2.500 2.500 0 0 1 2.500 -2.500h15a2.500 2.500 0 0 1 2.500 2.500v12.500a2.500 2.500 0 0 1 -2.500 2.500h-5M2 8.500h20M7.500 1v4M16.500 1v4M2 15.500h9M7.500 12l3.500 3.500-3.500 3.500" class="ic" style="stroke-width:1.200"/></svg>
<span class="t" style="left:1436.50px;top:825.70px;font-size:15px;color:#1a1a1a;letter-spacing:0.510px;">14:22:54 UTC</span><div class="p" style="left:61px;top:860.5px;width:1485.7px;height:42px;border-radius:4px 4px 0 0"></div>
<span class="t" style="left:78.50px;top:871.70px;font-size:15px;color:#1a1a1a;letter-spacing:0.212px;">Pine Editor</span><span class="t" style="left:189.00px;top:871.70px;font-size:15px;color:#1a1a1a;letter-spacing:0.528px;">Strategy Tester</span><span class="t" style="left:332.00px;top:871.70px;font-size:15px;color:#1a1a1a;letter-spacing:0.200px;">Replay Trading</span><span class="t" style="left:471.00px;top:871.70px;font-size:15px;color:#1a1a1a;letter-spacing:0.180px;">Trading Panel</span><svg style="left:1476px;top:873px" width="22" height="16" viewBox="0 0 22 16"><path d="M2 12l9 -8.500 9 8.500" class="ic" style="stroke-width:1.300"/></svg>
<svg style="left:1515px;top:870px" width="22" height="22" viewBox="0 0 22 22"><path d="M2 6V4.500a3 3 0 0 1 3 -3h12a3 3 0 0 1 3 3V6M2 10v6.500a3 3 0 0 0 3 3h12a3 3 0 0 0 3 -3V10" class="ic" style="stroke-width:1.300"/></svg>
<div class="p" style="left:1551px;top:44px;width:49px;height:858px;border-top-left-radius:4px"></div>
<svg style="left:1557.5px;top:52.0px" width="36" height="36" viewBox="-18.0 -18.0 36 36"><g class="ic" style="stroke-width:1.2"><path d="M-10.500 -11.500h21v22.500l-10.500 -4.500l-10.500 4.500zM-6.800 -7.700h13.300M-6.800 -3.200h13.300M-6.800 1.900h13.300"/></g></svg>
<svg style="left:1557.5px;top:101.0px" width="36" height="36" viewBox="-18.0 -18.0 36 36"><g class="ic" style="stroke-width:1.2"><circle cx="0" cy="0.500" r="11.500"/><path d="M0 -4.500v6h-4M-13 -6l5 -5.500M13 -6l-5 -5.500"/></g></svg>
<svg style="left:1557.5px;top:152.0px" width="36" height="36" viewBox="-18.0 -18.0 36 36"><g class="ic" style="stroke-width:1.2"><path d="M0 -10.500l12 6.500-12 6.500-12 -6.500zM-12 2.500l12 6.500 12 -6.500"/></g></svg>
<svg style="left:1557.5px;top:202.0px" width="36" height="36" viewBox="-18.0 -18.0 36 36"><g class="ic" style="stroke-width:1.2"><path d="M-10 -11.500h15a2.500 2.500 0 0 1 2.500 2.500v10.500a2.500 2.500 0 0 1 -2.500 2.500h-10l-7.500 5.500v-18.500a2.500 2.500 0 0 1 2.500 -2.500zM7.500 -6h3a2.500 2.500 0 0 1 2.500 2.500v15.500l-6.500 -5h-5a2.500 2.500 0 0 1 -2.500 -2.500"/></g></svg>
<svg style="left:1555.0px;top:593.3px" width="40" height="40" viewBox="-20.0 -20.0 40 40"><g class="ic" style="stroke-width:1.2"><circle cx="0" cy="0" r="14.500"/><circle cx="0" cy="0" r="8"/><circle cx="0" cy="0" r="2" fill="#1c1c1c"/><path d="M0 0L10.500 -10.500"/></g></svg>
<svg style="left:1557.5px;top:645.5px" width="36" height="36" viewBox="-18.0 -18.0 36 36"><g class="ic" style="stroke-width:1.2"><rect x="-12.300" y="-10" width="24.600" height="21.500" rx="3"/><path d="M-12.300 -3h24.600"/><rect x="-7" y="-12.500" width="2" height="5" rx="1" fill="#fff"/><rect x="5" y="-12.500" width="2" height="5" rx="1" fill="#fff"/></g></svg>
<svg style="left:1557px;top:695px" width="38" height="38" viewBox="-19 -19 38 38"><circle cx="-0.500" cy="-0.400" r="18.300" fill="#262626"/><g fill="#fff"><rect x="-9.7" y="-9.600000000000001" width="4.400" height="4.400" rx="1.200"/><rect x="-9.7" y="-2.6" width="4.400" height="4.400" rx="1.200"/><rect x="-9.7" y="4.3999999999999995" width="4.400" height="4.400" rx="1.200"/><rect x="-2.7" y="-9.600000000000001" width="4.400" height="4.400" rx="1.200"/><rect x="-2.7" y="-2.6" width="4.400" height="4.400" rx="1.200"/><rect x="-2.7" y="4.3999999999999995" width="4.400" height="4.400" rx="1.200"/><rect x="4.3" y="-9.600000000000001" width="4.400" height="4.400" rx="1.200"/><rect x="4.3" y="-2.6" width="4.400" height="4.400" rx="1.200"/><rect x="4.3" y="4.3999999999999995" width="4.400" height="4.400" rx="1.200"/></g></svg>
<div class="sep" style="left:1557px;top:744px;width:36px;height:1px"></div>
<svg style="left:1557.0px;top:757.0px" width="36" height="36" viewBox="-18.0 -18.0 36 36"><g class="ic" style="stroke-width:1.2"><path d="M-12 -11.500a23.500 23.500 0 0 1 23.500 23.500M-12 -5a17 17 0 0 1 17 17M-12 1.500a10.500 10.500 0 0 1 10.500 10.500"/><circle cx="-9.600" cy="9.400" r="1.800"/></g></svg>
<svg style="left:1557.9px;top:807.5px" width="36" height="36" viewBox="-18.0 -18.0 36 36"><g class="ic" style="stroke-width:1.2"><path d="M-9.100 6.100V-2.500a9.100 9.100 0 0 1 18.200 0V6.100"/><rect x="-11.100" y="6.100" width="22.200" height="3.400" rx="1.700"/><path d="M-3 9.500a3 3 0 0 0 6 0M-1.600 -11.400a1.600 1.600 0 0 1 3.200 0"/></g></svg>
<svg style="left:1553.4px;top:853.4px" width="44" height="44" viewBox="-22.0 -22.0 44 44"><g class="ic" style="stroke-width:1.2"><path d="M8 -12.700a15 15 0 1 0 6.800 9.500"/><path d="M-4.300 -4.500a4.300 4.300 0 1 1 6 4c-1.300 0.700 -1.700 1.600 -1.700 3.400"/><circle cx="0" cy="6.800" r="1.300"/><path d="M12 -16.400l1.500 4 4 1.500-4 1.500-1.500 4-1.500 -4-4 -1.500 4 -1.500zM-12.800 5.800l0.900 2.300 2.300 0.900-2.300 0.900-0.900 2.300-0.900 -2.300-2.300 -0.900 2.300 -0.900z" fill="#fff"/></g></svg>
<div class="a" style="left:468px;top:20px;width:664.2px;height:608.7px;background:#fff;border-radius:7px;box-shadow:0 1.5px 4.5px rgba(0,0,0,0.2),0 0 1.5px rgba(0,0,0,0.12)"></div>
<span class="t" style="left:490.50px;top:47.50px;font-size:21px;color:#131313;font-weight:700;letter-spacing:-0.049px;line-height:28px;height:28px;margin-top:-4px;">Settings</span><svg style="left:1086px;top:48px" width="18" height="18" viewBox="0 0 18 18"><path d="M1 1l16 16M17 1L1 17" class="ic" style="stroke-width:1.400"/></svg>
<div class="a" style="left:468px;top:94px;width:664.2px;height:1px;background:#efefef"></div>
<div class="a" style="left:686px;top:95px;width:1px;height:461px;background:#efefef"></div>
<div class="a" style="left:468px;top:556px;width:664.2px;height:1px;background:#efefef"></div>
<div class="a" style="left:468px;top:101.200px;width:218px;height:43.300px;background:#f2f2f2"></div>
<span class="t" style="left:529.50px;top:113.20px;font-size:15px;color:#131313;letter-spacing:0.846px;-webkit-text-stroke:0.55px #131313;">Symbol</span><span class="t" style="left:529.50px;top:156.70px;font-size:15px;color:#131313;letter-spacing:0.246px;">Status line</span><span class="t" style="left:529.50px;top:200.20px;font-size:15px;color:#131313;letter-spacing:0.184px;">Scales and lines</span><span class="t" style="left:529.50px;top:243.70px;font-size:15px;color:#131313;letter-spacing:-0.122px;">Canvas</span><span class="t" style="left:529.50px;top:287.20px;font-size:15px;color:#131313;letter-spacing:0.282px;">Trading</span><span class="t" style="left:529.50px;top:330.70px;font-size:15px;color:#131313;letter-spacing:0.381px;">Alerts</span><span class="t" style="left:529.50px;top:374.20px;font-size:15px;color:#131313;letter-spacing:-0.022px;">Events</span><svg style="left:489.0px;top:107.0px" width="32" height="32" viewBox="-16.0 -16.0 32 32"><g class="ic" style="stroke-width:1.5"><rect x="-5.150" y="-7.150" width="2.800" height="13.200" rx="0.400"/><path d="M-3.750 -10.300v3M-3.750 6.200v3.400"/><rect x="3.550" y="-3.950" width="2.800" height="6.800" rx="0.400"/><path d="M4.950 -7.400v3.300M4.950 3v3.300"/></g></svg>
<svg style="left:489.0px;top:150.5px" width="32" height="32" viewBox="-16.0 -16.0 32 32"><g class="ic" style="stroke-width:1.2"><rect x="-8.800" y="-7.800" width="18.400" height="2.800" rx="1.400"/><path d="M-8.300 4.100h12.600M-8.300 8.200h12.600"/><path d="M-8.300 0.100h12.600" style="stroke:#9a9a9a"/></g></svg>
<svg style="left:489.0px;top:194.0px" width="32" height="32" viewBox="-16.0 -16.0 32 32"><g class="ic" style="stroke-width:1.2"><path d="M-6 5.500v-15.500M-9 -7l3 -3.500 3 3.500M-3.800 8h15M8 5l3.500 3-3.500 3"/><circle cx="-6" cy="8" r="2.200"/></g></svg>
<svg style="left:489.0px;top:237.5px" width="32" height="32" viewBox="-16.0 -16.0 32 32"><g class="ic" style="stroke-width:1.2"><path d="M-8.500 8l1.200 -5.500 10.800 -10.500a2.500 2.500 0 0 1 3.500 0l1 1a2.500 2.500 0 0 1 0 3.500l-10.800 10.500zM-7 3l4 4M1.500 -6l4.500 4.500"/></g></svg>
<svg style="left:489.0px;top:281.0px" width="32" height="32" viewBox="-16.0 -16.0 32 32"><g class="ic" style="stroke-width:1.2"><g style="stroke-linejoin:miter;stroke-width:4.300"><path d="M-10.900 4.700L-4.900 0L1 5.100"/><path d="M-0.800 -5.500L4.900 -0.700L10.800 -6"/></g><g style="stroke:#fff;stroke-linejoin:miter;stroke-width:1.900"><path d="M-10.900 4.700L-4.900 0L1 5.100"/><path d="M-0.800 -5.500L4.900 -0.700L10.800 -6"/></g></g></svg>
<svg style="left:489.0px;top:324.5px" width="32" height="32" viewBox="-16.0 -16.0 32 32"><g class="ic" style="stroke-width:1.2"><circle cx="0" cy="1" r="9.500"/><path d="M0 -3.500v5h-3.500M-11.500 -5l4.500 -4.500M11.500 -5l-4.500 -4.500"/></g></svg>
<svg style="left:489.0px;top:368.0px" width="32" height="32" viewBox="-16.0 -16.0 32 32"><g class="ic" style="stroke-width:1.2"><rect x="-9.500" y="-8" width="19" height="17.500" rx="2.500"/><path d="M-9.500 -2.500h19M-5 -11.500v3.500M5 -11.500v3.500"/></g></svg>
<span class="t" style="left:709.00px;top:119.50px;font-size:11.5px;color:#8c8c8c;letter-spacing:0.205px;">VOLUME CANDLES</span><div class="a" style="left:708.75px;top:164px;width:19px;height:19px;border:1.2px solid #5a5a5a;border-radius:3.5px;background:#fff"></div>
<span class="t" style="left:737.00px;top:163.70px;font-size:15.5px;color:#131313;letter-spacing:0.099px;">Color bars based on previous close</span><div class="a" style="left:708.75px;top:219.0px;width:19px;height:19px;border-radius:3.5px;background:#262626"></div>
<svg style="left:708.75px;top:219.0px" width="19" height="19" viewBox="0 0 19 19"><path d="M5 9.800l3.200 3L14 6.500" fill="none" stroke="#fff" stroke-width="2" stroke-linecap="round" stroke-linejoin="round"/></svg>
<span class="t" style="left:737.00px;top:218.20px;font-size:15.5px;color:#131313;letter-spacing:0.057px;">Body</span><div class="a" style="left:814px;top:210.3px;width:36.500px;height:36.500px;border:1px solid #e3e3e3;border-radius:7px;background:#fff"></div>
<div class="a" style="left:819.2px;top:215.5px;width:26px;height:26px;border-radius:3.500px;background:#089981"></div>
<div class="a" style="left:859.25px;top:210.3px;width:36.500px;height:36.500px;border:1px solid #e3e3e3;border-radius:7px;background:#fff"></div>
<div class="a" style="left:865.1500000000001px;top:215.5px;width:26px;height:26px;border-radius:3.500px;background:#f23645"></div>
<div class="a" style="left:708.75px;top:273.5px;width:19px;height:19px;border-radius:3.5px;background:#262626"></div>
<svg style="left:708.75px;top:273.5px" width="19" height="19" viewBox="0 0 19 19"><path d="M5 9.800l3.200 3L14 6.500" fill="none" stroke="#fff" stroke-width="2" stroke-linecap="round" stroke-linejoin="round"/></svg>
<span class="t" style="left:737.00px;top:272.70px;font-size:15.5px;color:#131313;letter-spacing:0.037px;">Borders</span><div class="a" style="left:814px;top:264.8px;width:36.500px;height:36.500px;border:1px solid #e3e3e3;border-radius:7px;background:#fff"></div>
<div class="a" style="left:819.2px;top:270px;width:26px;height:26px;border-radius:3.500px;background:#089981"></div>
<div class="a" style="left:859.25px;top:264.8px;width:36.500px;height:36.500px;border:1px solid #e3e3e3;border-radius:7px;background:#fff"></div>
<div class="a" style="left:865.1500000000001px;top:270px;width:26px;height:26px;border-radius:3.500px;background:#f23645"></div>
<div class="a" style="left:708.75px;top:327.75px;width:19px;height:19px;border-radius:3.5px;background:#262626"></div>
<svg style="left:708.75px;top:327.75px" width="19" height="19" viewBox="0 0 19 19"><path d="M5 9.800l3.200 3L14 6.500" fill="none" stroke="#fff" stroke-width="2" stroke-linecap="round" stroke-linejoin="round"/></svg>
<span class="t" style="left:737.00px;top:326.95px;font-size:15.5px;color:#131313;letter-spacing:0.142px;">Wick</span><div class="a" style="left:814px;top:319.05px;width:36.500px;height:36.500px;border:1px solid #e3e3e3;border-radius:7px;background:#fff"></div>
<div class="a" style="left:819.2px;top:324.25px;width:26px;height:26px;border-radius:3.500px;background:#089981"></div>
<div class="a" style="left:859.25px;top:319.05px;width:36.500px;height:36.500px;border:1px solid #e3e3e3;border-radius:7px;background:#fff"></div>
<div class="a" style="left:865.1500000000001px;top:324.25px;width:26px;height:26px;border-radius:3.500px;background:#f23645"></div>
<span class="t" style="left:709.00px;top:387.30px;font-size:11.5px;color:#8c8c8c;letter-spacing:0.321px;">DATA MODIFICATION</span><span class="t" style="left:709.00px;top:432.20px;font-size:15.5px;color:#131313;letter-spacing:-0.031px;">Precision</span><div class="a" style="left:814px;top:423.7px;width:108px;height:36.300px;border:1px solid #d9d9d9;border-radius:7px;background:#fff"></div>
<span class="t" style="left:824.00px;top:432.20px;font-size:15.5px;color:#131313;letter-spacing:0.106px;">Default</span><svg style="left:902px;top:438px" width="13" height="9" viewBox="0 0 13 9"><path d="M1.500 1.800l5 4.700 5 -4.700" class="ic" style="stroke-width:1.300;stroke:#4a4a4a"/></svg>
<span class="t" style="left:709.00px;top:486.70px;font-size:15.5px;color:#131313;letter-spacing:0.038px;">Timezone</span><div class="a" style="left:814px;top:478.2px;width:108px;height:36.300px;border:1px solid #d9d9d9;border-radius:7px;background:#fff"></div>
<span class="t" style="left:824.00px;top:486.70px;font-size:15.5px;color:#131313;letter-spacing:-1.053px;">UTC</span><svg style="left:902px;top:492.5px" width="13" height="9" viewBox="0 0 13 9"><path d="M1.500 1.800l5 4.700 5 -4.700" class="ic" style="stroke-width:1.300;stroke:#4a4a4a"/></svg>
<div class="a" style="left:490.200px;top:575px;width:108px;height:36px;border:1px solid #d9d9d9;border-radius:7px;background:#fff"></div>
<span class="t" style="left:500.00px;top:583.50px;font-size:15.5px;color:#131313;letter-spacing:0.122px;">Template</span><svg style="left:578px;top:589px" width="13" height="9" viewBox="0 0 13 9"><path d="M1.500 1.800l5 4.700 5 -4.700" class="ic" style="stroke-width:1.300;stroke:#4a4a4a"/></svg>
<div class="a" style="left:968.25px;top:574.5px;width:80.500px;height:36.300px;border:1px solid #1f1f1f;border-radius:7px;background:#fff"></div>
<span class="t" style="left:982.00px;top:584.20px;font-size:17px;color:#131313;letter-spacing:0.116px;">Cancel</span><div class="a" style="left:1062px;top:574.5px;width:48px;height:36.300px;border-radius:7px;background:#0f0f0f"></div>
<span class="t" style="left:1075.00px;top:584.20px;font-size:17px;color:#fff;letter-spacing:0.277px;">Ok</span><svg style="left:0;top:0" width="1600" height="902" viewBox="0 0 1600 902"><g fill="#ff2600" stroke="none"><path d="M339.800 122.900H424.500V111.200L450.700 124.400L424.500 137.800V127.800H339.800z"/><path d="M1245.770 187.300L1348.670 76.700L1340.900 69.600L1368.500 59.100L1360 87.250L1352.330 80.100L1249.430 190.700z"/></g></svg>
</body></html>
